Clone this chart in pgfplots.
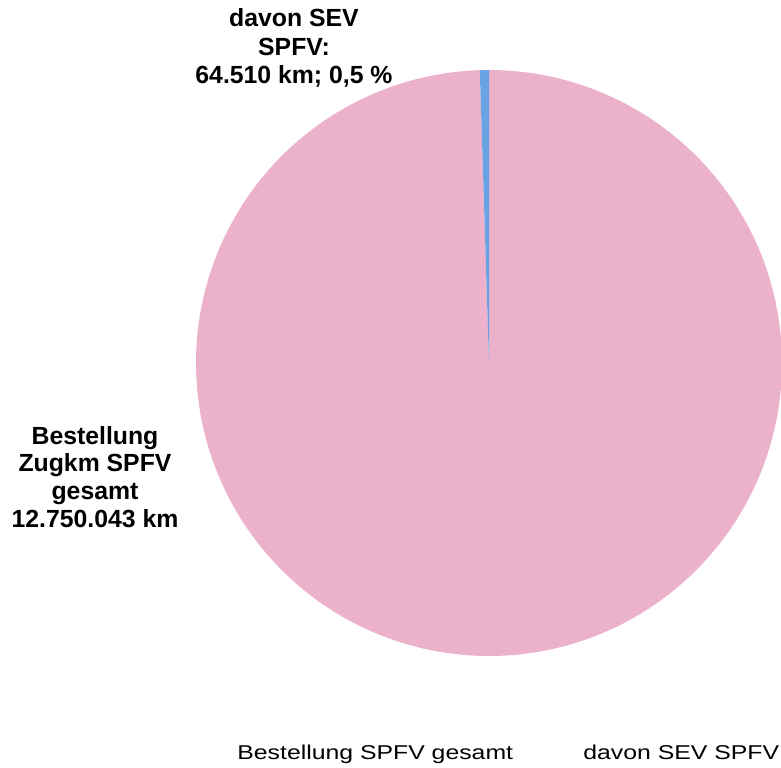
\documentclass[border=0pt]{standalone}
\usepackage{pgfplots}
\pgfplotsset{compat=1.18}
\usepackage{pgfplotstable}
\usepackage{graphicx}
\usepackage{fontspec}
\setmainfont{Liberation Sans}
\definecolor{piepink}{RGB}{236,178,203}
\definecolor{pieblue}{RGB}{104,164,228}
\pgfplotstableread{
part value
gesamt 12750043
SEV 64510
}\piedata
\begin{document}
\begin{tikzpicture}
\pgfplotstablegetelem{0}{value}\of\piedata \edef\va{\pgfplotsretval}
\pgfplotstablegetelem{1}{value}\of\piedata \edef\vb{\pgfplotsretval}
\pgfkeys{/pgf/fpu=true,/pgf/fpu/output format=fixed}
\pgfmathsetmacro\fa{360*\va/(\va+\vb)}
\pgfmathsetmacro\pa{450-\fa}
\pgfkeys{/pgf/fpu=false}
\begin{axis}[hide axis, scale only axis, width=390.5pt, height=383.5pt,
  xmin=0, xmax=781, ymin=0, ymax=767, clip=true]
\addplot[fill=piepink, draw=none, domain=\pa:450, samples=360]
  ({489+293*cos(x)},{404+293*sin(x)}) -- (axis cs:489,404) -- cycle;
\addplot[fill=pieblue, draw=none, domain=90:\pa, samples=10]
  ({489+293*cos(x)},{404+293*sin(x)}) -- (axis cs:489,404) -- cycle;
\node[align=center, font=\fontsize{12.4}{14.2}\selectfont\bfseries] at (axis cs:294,719)
  {davon SEV\\SPFV:\\64.510 km; 0,5 \%};
\node[align=center, font=\fontsize{12.4}{13.9}\selectfont\bfseries] at (axis cs:95,290)
  {Bestellung\\Zugkm SPFV\\gesamt\\12.750.043 km};
\node[anchor=base west, inner sep=0pt] at (axis cs:237,8)
  {\scalebox{1.24}[1]{\fontsize{10}{12}\selectfont Bestellung SPFV gesamt}};
\node[anchor=base west, inner sep=0pt] at (axis cs:583,8)
  {\scalebox{1.24}[1]{\fontsize{10}{12}\selectfont davon SEV SPFV}};
\end{axis}
\pgfresetboundingbox
\path[use as bounding box] (current axis.south west) rectangle (current axis.north east);
\end{tikzpicture}
\end{document}
